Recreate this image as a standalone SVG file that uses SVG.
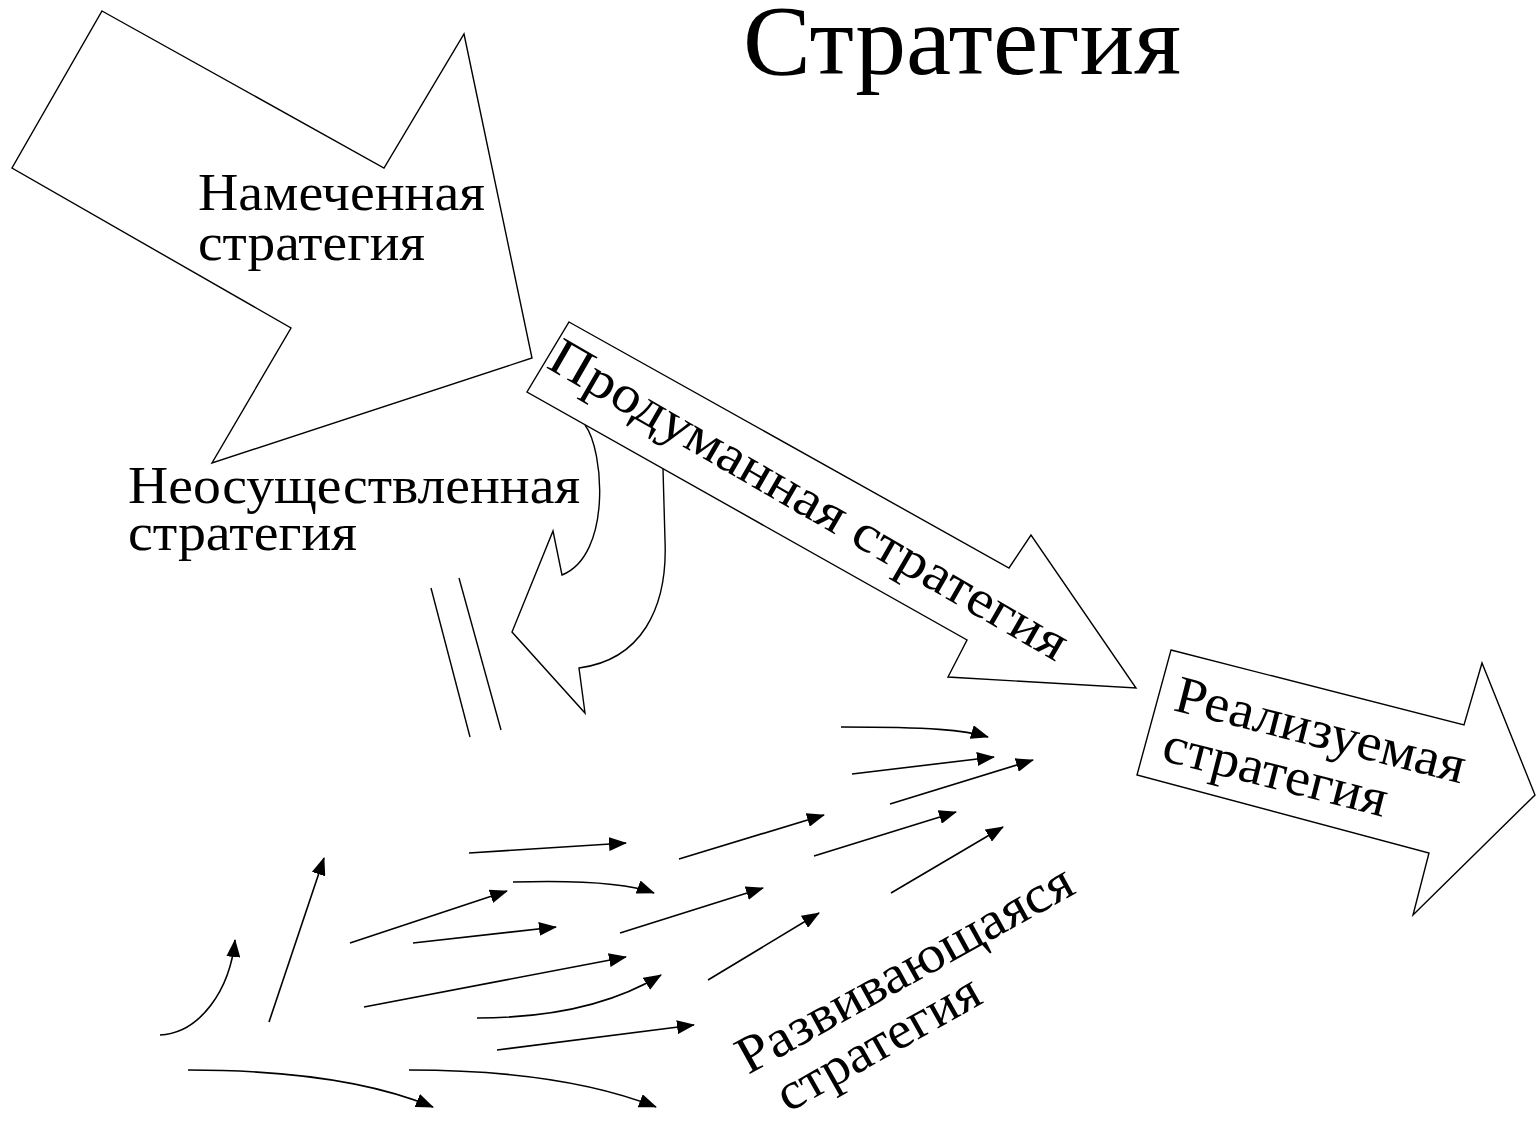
<svg xmlns="http://www.w3.org/2000/svg" width="1536" height="1123" viewBox="0 0 1536 1123">
<style>
.shape{fill:#fff;stroke:#000;stroke-width:1.4;stroke-linejoin:miter}
.lbl{font-family:"Liberation Serif","Times New Roman",serif;font-size:53px;fill:#000}
.flow{fill:none;stroke:#000;stroke-width:1.6}
.plain{fill:none;stroke:#000;stroke-width:1.4}
</style>
<defs>
<marker id="ah" viewBox="0 0 18 14" refX="17" refY="7" markerWidth="18" markerHeight="14" markerUnits="userSpaceOnUse" orient="auto">
<path d="M0,0 L18,7 L0,14 z" fill="#000"/>
</marker>
</defs>
<rect width="1536" height="1123" fill="#fff"/>
<text id="title" x="743" y="74" style="font-family:'Liberation Serif','Times New Roman',serif;font-size:100px" textLength="438" lengthAdjust="spacingAndGlyphs">Стратегия</text>

<g id="intended">
<polygon class="shape" points="102,11 384,168 464,34 532,358 212,463 291,328 12,168"/>
<text class="lbl" x="198" y="210" textLength="287" lengthAdjust="spacingAndGlyphs">Намеченная</text>
<text class="lbl" x="198" y="260" textLength="227" lengthAdjust="spacingAndGlyphs">стратегия</text>
</g>

<g id="unrealized">
<text class="lbl" x="128" y="503" textLength="452" lengthAdjust="spacingAndGlyphs">Неосуществленная</text>
<text class="lbl" x="128" y="550" textLength="229" lengthAdjust="spacingAndGlyphs">стратегия</text>
</g>

<g id="return-arrow">
<path class="shape" d="M585,425 C604,450 612,555 562,575 L553,531 L512,632 L585,713 L579,668 C640,660 668,610 665,540 L663,469"/>
</g>

<g id="deliberate">
<polygon class="shape" points="569,322 1009,568 1031,535 1136,688 948,677 967,640 527,392"/>
<text class="lbl" transform="translate(545,367) rotate(30)" textLength="590" lengthAdjust="spacingAndGlyphs">Продуманная стратегия</text>
</g>

<g id="realized">
<polygon class="shape" points="1171,650 1464,725 1482,663 1535,795 1413,915 1429,853 1137,775"/>
<text class="lbl" transform="translate(1172,710) rotate(14.3)" textLength="298" lengthAdjust="spacingAndGlyphs">Реализуемая</text>
<text class="lbl" transform="translate(1160,760) rotate(14.3)" textLength="230" lengthAdjust="spacingAndGlyphs">стратегия</text>
</g>

<g id="emergent">
<text class="lbl" transform="translate(748,1075) rotate(-29)" textLength="377" lengthAdjust="spacingAndGlyphs">Развивающаяся</text>
<text class="lbl" transform="translate(788,1113) rotate(-29.4)" textLength="226" lengthAdjust="spacingAndGlyphs">стратегия</text>
</g>

<g id="connectors">
<line class="plain" x1="431" y1="588" x2="470" y2="737"/>
<line class="plain" x1="459" y1="578" x2="501" y2="730"/>
<path class="flow" marker-end="url(#ah)" d="M160,1035 C200,1033 230,990 235,940"/>
<path class="flow" marker-end="url(#ah)" d="M269,1022 L324,858"/>
<path class="flow" marker-end="url(#ah)" d="M469,853 L626,843"/>
<path class="flow" marker-end="url(#ah)" d="M513,882 C580,880 630,884 654,893"/>
<path class="flow" marker-end="url(#ah)" d="M350,943 L507,891"/>
<path class="flow" marker-end="url(#ah)" d="M413,943 L556,927"/>
<path class="flow" marker-end="url(#ah)" d="M364,1007 L626,957"/>
<path class="flow" marker-end="url(#ah)" d="M477,1018 C560,1018 620,1000 661,975"/>
<path class="flow" marker-end="url(#ah)" d="M497,1050 L694,1025"/>
<path class="flow" marker-end="url(#ah)" d="M188,1070 C300,1070 380,1085 433,1107"/>
<path class="flow" marker-end="url(#ah)" d="M409,1070 C520,1070 600,1085 656,1107"/>
<path class="flow" marker-end="url(#ah)" d="M620,933 L763,888"/>
<path class="flow" marker-end="url(#ah)" d="M708,980 L819,913"/>
<path class="flow" marker-end="url(#ah)" d="M679,859 L824,815"/>
<path class="flow" marker-end="url(#ah)" d="M814,856 L956,812"/>
<path class="flow" marker-end="url(#ah)" d="M891,893 L1003,827"/>
<path class="flow" marker-end="url(#ah)" d="M841,727 C930,727 965,730 988,737"/>
<path class="flow" marker-end="url(#ah)" d="M852,774 L994,757"/>
<path class="flow" marker-end="url(#ah)" d="M890,804 L1033,760"/>
</g>
</svg>
